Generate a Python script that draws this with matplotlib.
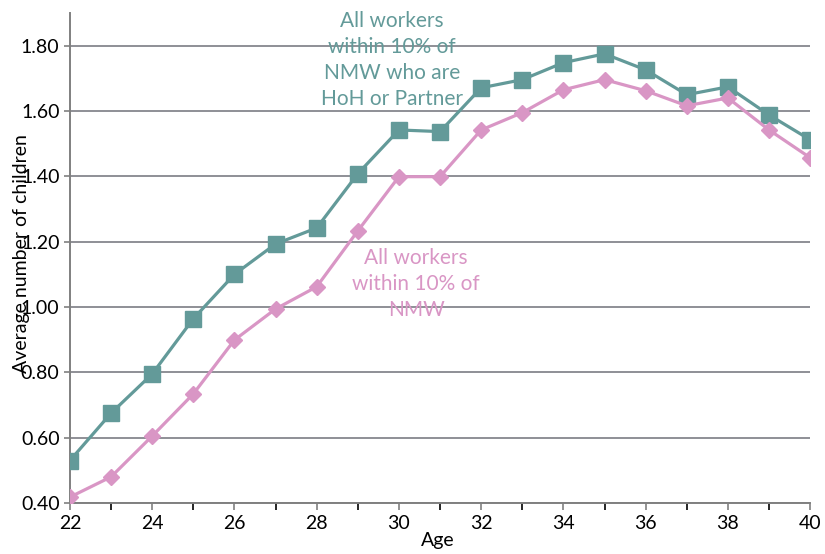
import matplotlib
matplotlib.use('Agg')
from matplotlib import pyplot as plt

ages = list(range(22, 41))
hoh_partner = [0.53, 0.675, 0.795, 0.964, 1.10, 1.193, 1.242, 1.408, 1.542, 1.537,
               1.671, 1.696, 1.748, 1.775, 1.726, 1.65, 1.674, 1.588, 1.512]
all_workers = [0.418, 0.48, 0.605, 0.734, 0.899, 0.994, 1.062, 1.233, 1.399, 1.399,
               1.542, 1.595, 1.665, 1.696, 1.662, 1.616, 1.64, 1.542, 1.457]
x_ticks = list(range(22, 41, 2))
y_ticks = [0.4, 0.6, 0.8, 1.0, 1.2, 1.4, 1.6, 1.8]

teal = '#639a99'
pink = '#d996c5'
grid_col = '#8e8f96'

plt.rcParams['font.family'] = ['Lato', 'DejaVu Sans']

fig = plt.figure(figsize=(8.25, 5.54), dpi=100)
ax = fig.add_axes([0.0848, 0.0921, 0.8972, 0.8844])

ax.plot(ages, hoh_partner, color=teal, lw=2.3, marker='s', ms=11, zorder=3)
ax.plot(ages, all_workers, color=pink, lw=2.3, marker='D', ms=8.5, zorder=3)

ax.set_xlim(22, 40)
ax.set_ylim(0.4, 1.9)
ax.set_xticks(x_ticks)
ax.set_xticks(ages, minor=True)
ax.set_yticks(y_ticks)
ax.set_yticklabels(['%.2f' % v for v in y_ticks])
ax.tick_params(axis='both', labelsize=14, colors='#808080', labelcolor='black')
ax.tick_params(axis='x', which='both', direction='out', length=5, width=1.2)
ax.tick_params(axis='y', direction='out', length=4, width=1.2)
ax.yaxis.grid(True, color=grid_col, lw=1.4)
ax.set_axisbelow(True)

for s in ['top', 'right']:
    ax.spines[s].set_visible(False)
for s in ['left', 'bottom']:
    ax.spines[s].set_color('#808080')
    ax.spines[s].set_linewidth(1.4)

# label sits over the tick labels, as in the original
ax.set_ylabel('Average number of children', fontsize=14)
ax.yaxis.set_label_coords(-0.054, 0.51)
ax.set_xlabel('Age', fontsize=14)
ax.xaxis.set_label_coords(0.497, -0.06)

ax.text(29.83, 1.905, 'All workers\nwithin 10% of\nNMW who are\nHoH or Partner',
        color=teal, fontsize=15, ha='center', va='top', linespacing=1.36)
ax.text(30.42, 1.18, 'All workers\nwithin 10% of\nNMW',
        color=pink, fontsize=15, ha='center', va='top', linespacing=1.36)

fig.savefig('out.png', dpi=100)
